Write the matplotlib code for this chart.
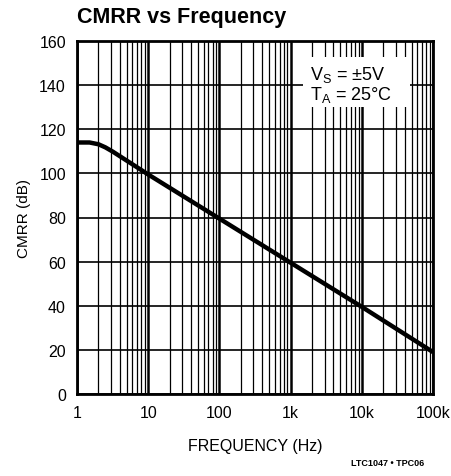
import numpy as np
import matplotlib.pyplot as plt
from matplotlib.patches import Rectangle
from matplotlib.ticker import FixedLocator, NullFormatter

# CMRR vs frequency curve
freq = [1, 1.5, 2.0, 2.5, 3.2, 10, 100, 1000, 10000, 100000]
cmrr = [114, 114, 113.2, 111.8, 109.8, 99.5, 79.5, 59.5, 39.5, 19]

xticks = [1, 10, 100, 1000, 10000, 100000]
xlabels = ["1", "10", "100", "1k", "10k", "100k"]
yticks = [0, 20, 40, 60, 80, 100, 120, 140, 160]

plt.rcParams['font.family'] = ['Liberation Sans', 'DejaVu Sans']

fig = plt.figure(figsize=(4.52, 4.77), dpi=100)
ax = fig.add_axes([77/452, 1 - 395/477, 356/452, 353/477])

ax.set_xscale('log')
ax.set_xlim(1, 100000)
ax.set_ylim(0, 160)

# grid: thick decades, thin minors, thick horizontals
minors = [m * 10**d for d in range(5) for m in range(2, 10)]
for x in minors:
    ax.axvline(x, color='black', lw=0.9, zorder=1)
for x in xticks:
    ax.axvline(x, color='black', lw=1.8, zorder=1)
for y in yticks:
    ax.axhline(y, color='black', lw=1.2, zorder=1)

ax.plot(freq, cmrr, color='black', lw=3.2, solid_capstyle='butt', zorder=3)

ax.set_xticks(xticks)
ax.set_xticklabels(xlabels)
ax.xaxis.set_minor_locator(FixedLocator(minors))
ax.xaxis.set_minor_formatter(NullFormatter())
ax.set_yticks(yticks)
ax.tick_params(which='both', length=0, labelsize=11.5, pad=8)
for s in ax.spines.values():
    s.set_linewidth(2)

# white label box blanks out the grid behind the conditions text
ax.add_patch(Rectangle((0.635, 0.813), 0.30, 0.142, transform=ax.transAxes,
                       facecolor='white', edgecolor='none', zorder=4))
ax.text(0.655, 0.878, "V$_\\mathregular{S}$ = ±5V\nT$_\\mathregular{A}$ = 25°C",
        transform=ax.transAxes, ha='left', va='center', fontsize=13,
        linespacing=1.0, zorder=5)

ax.set_ylabel("CMRR (dB)", fontsize=11, labelpad=6)
ax.set_xlabel("FREQUENCY (Hz)", fontsize=11.5, labelpad=13)
fig.text(77/452, 1 - 17/477, "CMRR vs Frequency", fontsize=15.5, fontweight='bold',
         va='center', ha='left')
fig.text(424/452, 1 - 464/477, "LTC1047 • TPC06", fontsize=6.5, fontweight='bold',
         ha='right', va='center')

fig.savefig("out.png", dpi=100)
